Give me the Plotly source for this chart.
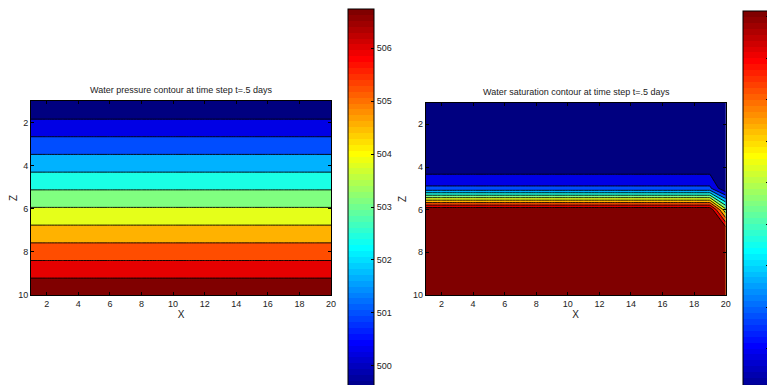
import plotly.graph_objects as go

# ---------------- data ----------------
x_cells = list(range(1, 21))
z_depths = list(range(1, 11))

# water pressure per depth row (same across X)
pressure_by_depth = [499.60, 500.39, 501.19, 501.98, 502.77, 503.57, 504.36, 505.15, 505.95, 506.74]
pressure_level_start = 500.266
pressure_level_size = 0.6505
pressure_cmin, pressure_cmax = 499.60, 506.74
pressure_ticks = [500, 501, 502, 503, 504, 505, 506]

# water saturation per depth row: columns X=1..19 and column X=20
sat_profile_interior = [0.0, 0.0, 0.0, 0.032, 0.183, 0.903, 0.912, 0.914, 0.914, 0.914]
sat_profile_edge = [0.0, 0.0, 0.0, 0.0, 0.0, 0.52, 0.909, 0.914, 0.914, 0.914]
sat_level_start = 0.0831
sat_level_size = 0.0831
sat_cmin, sat_cmax = 0.0, 0.914
sat_ticks = [0.1, 0.2, 0.3, 0.4, 0.5, 0.6, 0.7, 0.8, 0.9]

x_ticks = [2, 4, 6, 8, 10, 12, 14, 16, 18, 20]
z_ticks = [2, 4, 6, 8, 10]

title_left = "Water pressure contour at time step t=.5 days"
title_right = "Water saturation contour at time step t=.5 days"

# ---------------- grids ----------------
pressure_grid = [[p] * len(x_cells) for p in pressure_by_depth]
sat_grid = [[si] * (len(x_cells) - 1) + [se] for si, se in zip(sat_profile_interior, sat_profile_edge)]


def jet(t):
    def c(v):
        return max(0.0, min(1.0, v))
    r = c(1.5 - abs(4 * t - 3))
    g = c(1.5 - abs(4 * t - 2))
    b = c(1.5 - abs(4 * t - 1))
    return "rgb(%d,%d,%d)" % (round(r * 255), round(g * 255), round(b * 255))


jet_cont = [[i / 64, jet(i / 64)] for i in range(65)]
jet64 = []
for i in range(64):
    col = jet((i + 1) / 64)
    jet64.append([i / 64, col])
    jet64.append([(i + 1) / 64, col])

# the page body has an 8px margin: work in window pixels, convert to figure pixels
OFF = 8
W, H = 775 - OFF, 385 - OFF


def px_x(wx):
    return (wx - OFF) / W


def px_y(wy):
    return (H - (wy - OFF)) / H


FONT = "Liberation Sans Narrow, Liberation Sans, Arial, sans-serif"
tickfont = dict(family=FONT, size=9, color="#222")


def cbar(xpx, toppx, lenpx, ticks):
    return dict(
        thickness=26, thicknessmode="pixels",
        len=lenpx, lenmode="pixels",
        x=px_x(xpx), xanchor="left",
        y=px_y(toppx), yanchor="top",
        xpad=0, ypad=0,
        outlinewidth=1, outlinecolor="black",
        tickvals=ticks, ticks="inside", ticklen=3, tickcolor="black",
        tickfont=tickfont, borderwidth=0,
    )


contour_line = dict(color="black", width=0.9, smoothing=0)

fig = go.Figure()

# colorbar carriers (hidden beneath the filled contours)
fig.add_trace(go.Heatmap(
    x=x_cells, y=z_depths, z=pressure_grid, colorscale=jet64,
    zmin=pressure_cmin, zmax=pressure_cmax, hoverinfo="skip",
    colorbar=cbar(348, 9, (pressure_cmax - pressure_cmin) * 53, pressure_ticks),
    xaxis="x", yaxis="y"))
fig.add_trace(go.Contour(
    x=x_cells, y=z_depths, z=pressure_grid, colorscale=jet_cont, showscale=False,
    contours=dict(coloring="fill", start=pressure_level_start,
                  end=pressure_level_start + 9 * pressure_level_size,
                  size=pressure_level_size),
    line=contour_line, xaxis="x", yaxis="y"))

fig.add_trace(go.Heatmap(
    x=x_cells, y=z_depths, z=sat_grid, colorscale=jet64,
    zmin=sat_cmin, zmax=sat_cmax, hoverinfo="skip",
    colorbar=cbar(743, 11, (sat_cmax - sat_cmin) * 415, sat_ticks),
    xaxis="x2", yaxis="y2"))
fig.add_trace(go.Contour(
    x=x_cells, y=z_depths, z=sat_grid, colorscale=jet_cont, showscale=False,
    contours=dict(coloring="fill", start=sat_level_start,
                  end=sat_level_start + 9 * sat_level_size,
                  size=sat_level_size),
    line=contour_line, xaxis="x2", yaxis="y2"))

axis_common = dict(
    showline=True, mirror="allticks", linecolor="black", linewidth=1,
    ticks="inside", ticklen=3, tickcolor="black", tickfont=tickfont,
    showgrid=False, zeroline=False, automargin=False,
)

fig.update_layout(
    width=W, height=H,
    margin=dict(l=0, r=0, t=0, b=0, autoexpand=False),
    paper_bgcolor="white", plot_bgcolor="white",
    showlegend=False,
    font=dict(family=FONT, color="#222"),
    xaxis=dict(domain=[px_x(31), px_x(331)], range=[1, 20], tickvals=x_ticks,
               title=dict(text="X", font=dict(family=FONT, size=10), standoff=1),
               anchor="y", **axis_common),
    yaxis=dict(domain=[px_y(295), px_y(101)], range=[10, 1], tickvals=z_ticks,
               title=dict(text="Z", font=dict(family=FONT, size=10), standoff=4),
               anchor="x", **axis_common),
    xaxis2=dict(domain=[px_x(425.7), px_x(725.7)], range=[1, 20], tickvals=x_ticks,
                title=dict(text="X", font=dict(family=FONT, size=10), standoff=1),
                anchor="y2", **axis_common),
    yaxis2=dict(domain=[px_y(295), px_y(103)], range=[10, 1], tickvals=z_ticks,
                title=dict(text="Z", font=dict(family=FONT, size=10), standoff=4),
                anchor="x2", **axis_common),
    annotations=[
        dict(text=title_left, x=px_x(181), y=px_y(90), xref="paper", yref="paper",
             xanchor="center", yanchor="middle", showarrow=False,
             font=dict(family=FONT, size=9, color="#222")),
        dict(text=title_right, x=px_x(576), y=px_y(92), xref="paper", yref="paper",
             xanchor="center", yanchor="middle", showarrow=False,
             font=dict(family=FONT, size=9, color="#222")),
    ],
)

fig.write_html("out.html")
